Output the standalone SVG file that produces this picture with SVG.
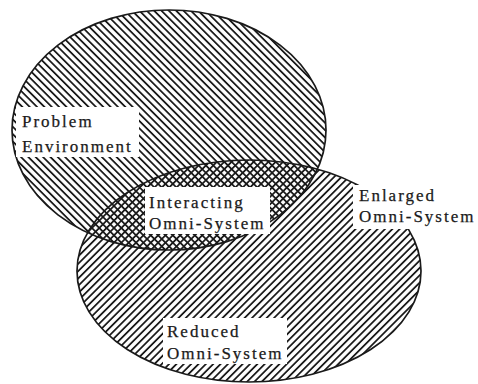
<svg xmlns="http://www.w3.org/2000/svg" width="478" height="384" viewBox="0 0 478 384">
  <style>
    .outline { fill: none; stroke: #1a1a1a; stroke-width: 1.7; }
    .box { fill: #ffffff; stroke: none; }
    .lbl { font-family: "Liberation Serif", "Times New Roman", serif; font-size: 17px; letter-spacing: 2px; fill: #1a1a1a; stroke: #1a1a1a; stroke-width: 0.25; }
  </style>
  <defs>
    <pattern id="hatchBack" patternUnits="userSpaceOnUse" width="5.2" height="5.2" patternTransform="rotate(45)">
      <line x1="0" y1="2.6" x2="5.2" y2="2.6" stroke="#1a1a1a" stroke-width="1.8"/>
    </pattern>
    <pattern id="hatchFwd" patternUnits="userSpaceOnUse" width="5.2" height="5.2" patternTransform="rotate(-45)">
      <line x1="0" y1="2.6" x2="5.2" y2="2.6" stroke="#1a1a1a" stroke-width="1.8"/>
    </pattern>
  </defs>
  <rect width="478" height="384" fill="#ffffff"/>
  <g id="problem-environment">
    <ellipse cx="169" cy="130" rx="157" ry="120" fill="url(#hatchBack)"/>
  </g>
  <g id="enlarged-omni-system">
    <ellipse cx="249" cy="271" rx="172" ry="111" fill="url(#hatchFwd)"/>
  </g>
  <g id="outlines">
    <ellipse class="outline" cx="169" cy="130" rx="157" ry="120"/>
    <ellipse class="outline" cx="249" cy="271" rx="172" ry="111"/>
  </g>
  <g id="label-problem-environment">
    <rect class="box" x="16" y="107" width="123" height="50"/>
    <text class="lbl" x="22" y="127">Problem</text>
    <text class="lbl" x="22" y="152">Environment</text>
  </g>
  <g id="label-interacting-omni-system">
    <rect class="box" x="145" y="187" width="125" height="47"/>
    <text class="lbl" x="149" y="208">Interacting</text>
    <text class="lbl" x="149" y="229">Omni-System</text>
  </g>
  <g id="label-enlarged-omni-system">
    <rect class="box" x="353" y="185" width="125" height="44"/>
    <text class="lbl" x="359" y="201">Enlarged</text>
    <text class="lbl" x="359" y="222">Omni-System</text>
  </g>
  <g id="label-reduced-omni-system">
    <rect class="box" x="163" y="318" width="124" height="46"/>
    <text class="lbl" x="167" y="337">Reduced</text>
    <text class="lbl" x="167" y="359">Omni-System</text>
  </g>
  <g id="connectors"/>
</svg>
